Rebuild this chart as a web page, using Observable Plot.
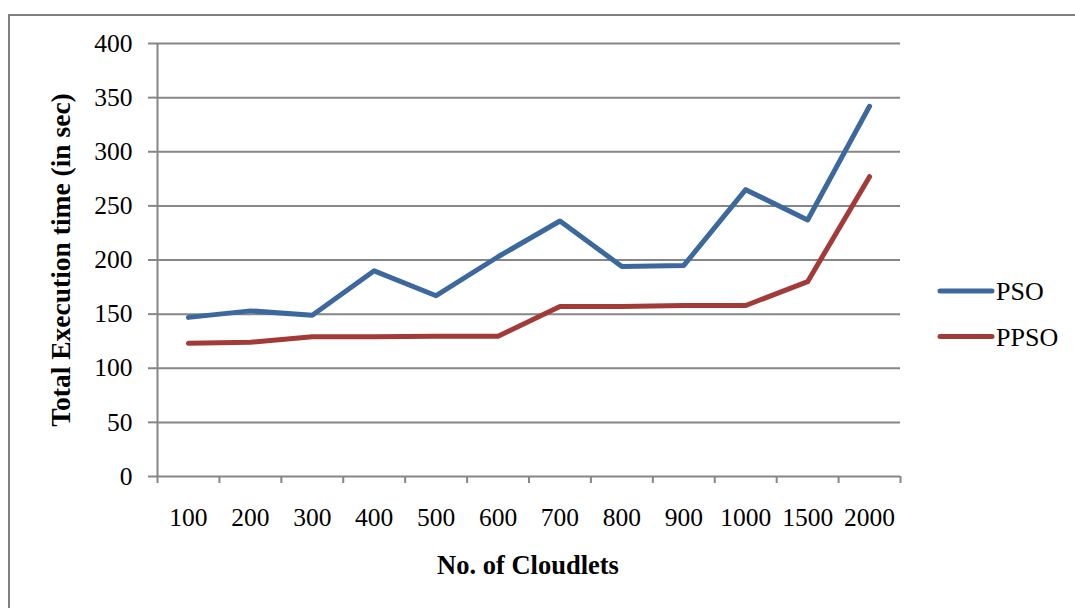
<!DOCTYPE html>
<html>
<head>
<meta charset="utf-8">
<script src="https://cdn.jsdelivr.net/npm/d3@7"></script>
<script src="https://cdn.jsdelivr.net/npm/@observablehq/plot@0.6"></script>
<style>
  body { margin: 0; background: #fff; }
  #wrap { position: relative; width: 1075px; height: 608px; overflow: hidden; background: #fff; }
  #frame { position: absolute; left: 8px; top: 14px; width: 2000px; height: 2000px;
           border-top: 2px solid #7f7f7f; border-left: 2px solid #7f7f7f; }
  #wrap svg { position: absolute; left: 0; top: 0; }
</style>
</head>
<body>
<div id="wrap"><div id="frame"></div></div>
<script>
// Number of cloudlets (x categories)
const cloudlets = ["100", "200", "300", "400", "500", "600", "700", "800", "900", "1000", "1500", "2000"];
// Total execution time in seconds
const pso  = [147, 153, 149, 190, 167, 203, 236, 194, 195, 265, 237, 342];
const ppso = [123, 124, 129, 129, 129.5, 129.5, 157, 157, 158, 158, 180, 277];
const yTicks = [0, 50, 100, 150, 200, 250, 300, 350, 400];
const seriesNames = ["PSO", "PPSO"];
const seriesColors = ["#3C689E", "#A23B38"];

const seriesValues = [pso, ppso];
const rows = seriesNames.flatMap((name, s) =>
  seriesValues[s].map((value, i) => ({ i, cat: cloudlets[i], name, value }))
);

const font = "'Liberation Serif', 'Times New Roman', serif";
const gray = "#868686";

const chart = Plot.plot({
  width: 1075,
  height: 608,
  marginTop: 43,
  marginBottom: 132,
  marginLeft: 157,
  marginRight: 175,
  style: { fontFamily: font, fontSize: "25.5px", color: "black", background: "transparent" },
  x: { type: "linear", domain: [0, cloudlets.length] },
  y: { domain: [0, 400] },
  color: { domain: seriesNames, range: seriesColors },
  marks: [
    Plot.ruleY(yTicks.filter(v => v > 0), { stroke: gray, strokeWidth: 2 }),
    Plot.ruleX([0], { stroke: gray, strokeWidth: 2 }),
    Plot.ruleY([0], { stroke: gray, strokeWidth: 2 }),
    Plot.axisY({ ticks: yTicks, tickSize: 9, tickPadding: 16, stroke: gray, strokeWidth: 2,
                 tickFormat: d => String(d), label: null }),
    Plot.axisX({ ticks: d3.range(cloudlets.length + 1), tickSize: 7, stroke: gray, strokeWidth: 2,
                 tickFormat: () => "", label: null }),
    Plot.axisX({ ticks: d3.range(cloudlets.length).map(i => i + 0.5), tickSize: 0, tickPadding: 31,
                 tickFormat: v => cloudlets[Math.floor(v)], label: null }),
    Plot.line(rows, { x: d => d.i + 0.5, y: "value", z: "name", stroke: "name",
                      strokeWidth: 5, strokeLinecap: "round", strokeLinejoin: "round" })
  ]
});

const svg = d3.select(chart);

// Axis titles
svg.append("text")
  .attr("x", 528).attr("y", 574)
  .attr("text-anchor", "middle")
  .attr("font-family", font).attr("font-weight", "bold").attr("font-size", 26.5)
  .text("No. of Cloudlets");

svg.append("text")
  .attr("transform", "translate(70,260) rotate(-90)")
  .attr("text-anchor", "middle")
  .attr("font-family", font).attr("font-weight", "bold").attr("font-size", 27.5)
  .text("Total Execution time (in sec)");

// Legend
const legend = svg.append("g");
seriesNames.forEach((name, k) => {
  const y = 291 + k * 45.5;
  legend.append("line")
    .attr("x1", 940).attr("x2", 992).attr("y1", y).attr("y2", y)
    .attr("stroke", seriesColors[k]).attr("stroke-width", 5).attr("stroke-linecap", "round");
  legend.append("text")
    .attr("x", 996).attr("y", y + 9)
    .attr("text-anchor", "start")
    .attr("font-family", font).attr("font-size", 26)
    .text(name);
});

document.getElementById("wrap").appendChild(chart);
</script>
</body>
</html>
